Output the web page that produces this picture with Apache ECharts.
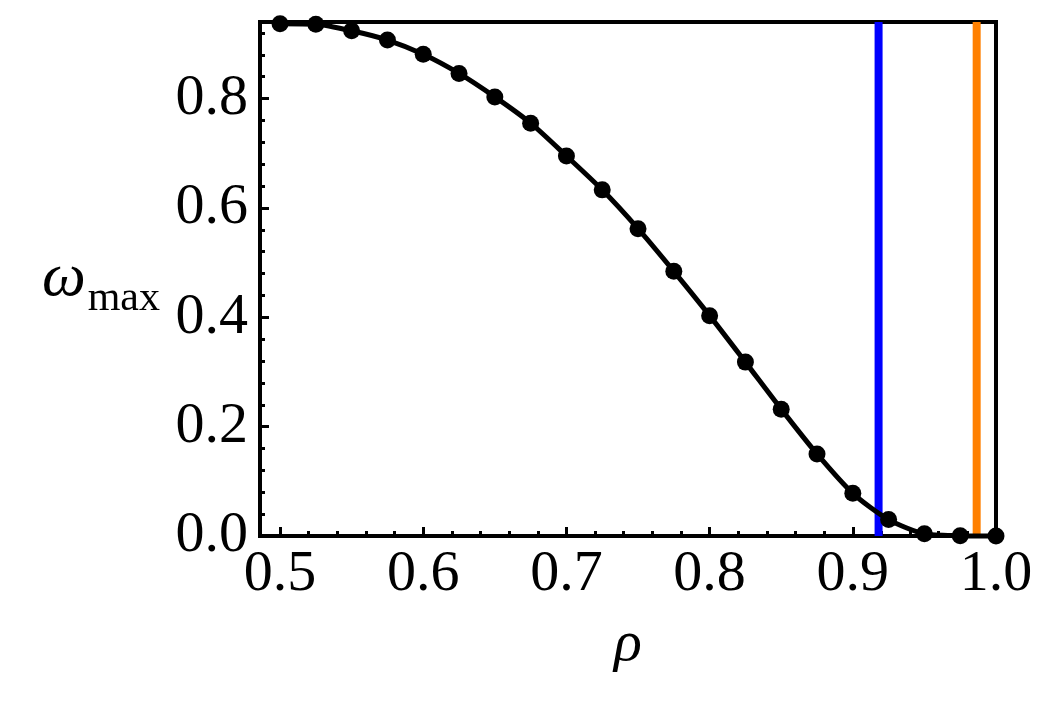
<!DOCTYPE html>
<html>
<head>
<meta charset="utf-8">
<script src="https://cdn.jsdelivr.net/npm/echarts@6/dist/echarts.min.js"></script>
<style>html,body{margin:0;padding:0;background:#fff;}#c{width:1042px;height:725px;}</style>
</head>
<body>
<div id="c"></div>
<script>
// Data
const rho = [0.5, 0.525, 0.55, 0.575, 0.6, 0.625, 0.65, 0.675, 0.7, 0.725, 0.75, 0.775, 0.8, 0.825, 0.85, 0.875, 0.9, 0.925, 0.95, 0.975, 1.0];
const omegaMax = [0.937, 0.936, 0.924, 0.907, 0.881, 0.846, 0.803, 0.755, 0.695, 0.633, 0.562, 0.484, 0.403, 0.318, 0.232, 0.150, 0.078, 0.030, 0.004, 0.0005, 0.0];
const blueLineRho = 0.918;
const orangeLineRho = 0.9865;
const xMajorTicks = [0.5, 0.6, 0.7, 0.8, 0.9, 1.0];
const xMinorTicks = [0.52, 0.54, 0.56, 0.58, 0.62, 0.64, 0.66, 0.68, 0.72, 0.74, 0.76, 0.78, 0.82, 0.84, 0.86, 0.88, 0.92, 0.94, 0.96, 0.98];
const yMajorTicks = [0.0, 0.2, 0.4, 0.6, 0.8];
const yMinorTicks = [0.04, 0.08, 0.12, 0.16, 0.24, 0.28, 0.32, 0.36, 0.44, 0.48, 0.52, 0.56, 0.64, 0.68, 0.72, 0.76, 0.84, 0.88, 0.92];
const xMin = 0.486, xMax = 1.0, yMin = 0, yMax = 0.94;

const FONT = "'Liberation Serif', 'Times New Roman', serif";
const chart = echarts.init(document.getElementById('c'));
const pts = rho.map((r, i) => [r, omegaMax[i]]);

function vline(x, color) {
  return {
    type: 'line', xAxisIndex: 0, yAxisIndex: 0,
    data: [[x, yMin], [x, yMax]],
    symbol: 'none', clip: false, silent: true,
    lineStyle: { color: color, width: 8, cap: 'butt' },
    z: 2
  };
}

chart.setOption({
  animation: false,
  backgroundColor: '#fff',
  grid: { left: 260, right: 46, top: 22, bottom: 189, show: true, borderColor: '#000', borderWidth: 4, backgroundColor: 'transparent' },
  xAxis: [
    {
      type: 'value', min: xMin, max: xMax,
      name: 'ρ', nameLocation: 'middle', nameGap: 80,
      nameTextStyle: { fontFamily: FONT, fontSize: 58, fontStyle: 'italic', color: '#000' },
      axisLine: { show: false },
      splitLine: { show: false },
      axisTick: { show: true, inside: true, length: 9, lineStyle: { color: '#000', width: 3 }, customValues: xMajorTicks },
      axisLabel: { show: true, customValues: xMajorTicks, margin: 10, fontFamily: FONT, fontSize: 58, color: '#000', formatter: v => v.toFixed(1) }
    },
    {
      type: 'value', min: xMin, max: xMax, position: 'bottom',
      axisLine: { show: false }, splitLine: { show: false }, axisLabel: { show: false },
      axisTick: { show: true, inside: true, length: 5, lineStyle: { color: '#000', width: 3 }, customValues: xMinorTicks }
    }
  ],
  yAxis: [
    {
      type: 'value', min: yMin, max: yMax,
      name: '{w|ω}{s|max}', nameLocation: 'middle', nameRotate: 0, nameGap: 100,
      nameTextStyle: {
        color: '#000',
        rich: {
          w: { fontFamily: FONT, fontSize: 62, fontStyle: 'italic', color: '#000', verticalAlign: 'bottom' },
          s: { fontFamily: FONT, fontSize: 42, color: '#000', verticalAlign: 'bottom', padding: [0, 0, -10, 2] }
        }
      },
      axisLine: { show: false },
      splitLine: { show: false },
      axisTick: { show: true, inside: true, length: 9, lineStyle: { color: '#000', width: 3 }, customValues: yMajorTicks },
      axisLabel: { show: true, customValues: yMajorTicks, margin: 12, fontFamily: FONT, fontSize: 58, color: '#000', formatter: v => v.toFixed(1) }
    },
    {
      type: 'value', min: yMin, max: yMax, position: 'left',
      axisLine: { show: false }, splitLine: { show: false }, axisLabel: { show: false },
      axisTick: { show: true, inside: true, length: 5, lineStyle: { color: '#000', width: 3 }, customValues: yMinorTicks }
    }
  ],
  series: [
    {
      type: 'line', xAxisIndex: 0, yAxisIndex: 0,
      data: pts, smooth: 0.25,
      clip: false,
      symbol: 'circle', symbolSize: 17,
      itemStyle: { color: '#000' },
      lineStyle: { color: '#000', width: 5 },
      z: 3
    },
    vline(blueLineRho, '#0000FF'),
    vline(orangeLineRho, '#FF8000')
  ]
});
</script>
</body>
</html>
